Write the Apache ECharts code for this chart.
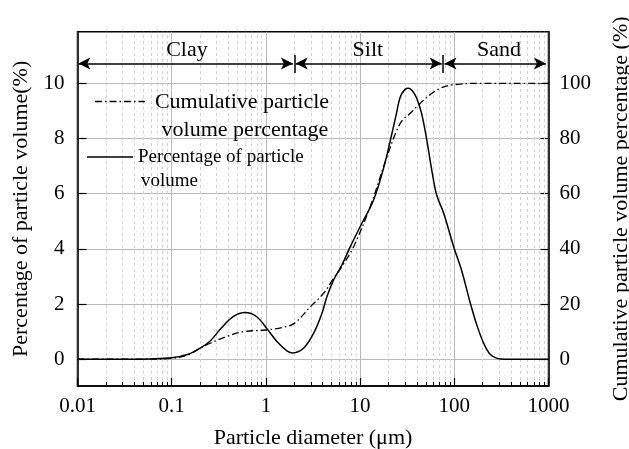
<!DOCTYPE html>
<html><head><meta charset="utf-8">
<script src="https://cdn.jsdelivr.net/npm/echarts@6/dist/echarts.min.js"></script>
<style>html,body{margin:0;padding:0;background:#fff}#c{width:629px;height:449px}</style>
</head><body><div id="c"></div>
<script>
// ---- data ----
const diameterPct = [0.01, 0.03, 0.06, 0.1, 0.15, 0.2, 0.256, 0.34, 0.453, 0.6, 0.8, 1.03, 1.31, 1.67, 1.9, 2.51, 3.21, 3.94, 4.45, 5.23, 6.42, 7.87, 10, 13.9, 18, 21, 24, 26.7, 30, 32.7, 36, 40, 45, 51, 58, 65, 77, 99, 120, 148, 175, 205, 240, 285, 350, 1000];
const percentVolume = [0, 0, 0.01, 0.05, 0.18, 0.4, 0.66, 1.15, 1.55, 1.69, 1.54, 1.1, 0.64, 0.3, 0.23, 0.4, 0.94, 1.67, 2.27, 2.87, 3.42, 4.08, 4.8, 5.77, 7.0, 7.95, 8.82, 9.5, 9.78, 9.82, 9.72, 9.45, 8.9, 7.95, 6.8, 5.95, 5.3, 4.05, 3.2, 2.03, 1.2, 0.58, 0.18, 0.03, 0, 0];
const diameterCum = [0.01, 0.05, 0.1, 0.15, 0.2, 0.256, 0.4, 0.578, 1.0, 1.5, 2.0, 2.96, 4.1, 5.23, 6.42, 8.53, 12.8, 19.3, 26.7, 35, 43.6, 55, 71, 90, 116, 160, 1000];
const cumulativeVolume = [0, 0, 0.3, 1.6, 4, 5.8, 8.5, 10, 10.6, 11.5, 13, 19, 23.9, 29.3, 33.6, 40.8, 55.3, 73.4, 85.5, 89.5, 92.8, 95.8, 98.2, 99.3, 99.7, 100, 100];
const leftTicks = [0, 2, 4, 6, 8, 10];
const rightTicks = [0, 20, 40, 60, 80, 100];
const zoneNames = ['Clay', 'Silt', 'Sand'];
const zoneBounds = [0.01, 2, 76, 1000];
const zoneLabelX = [0.145, 12.1, 299];
const zoneLabelY = 11.2;
const arrowY = 10.72;

const FONT = '"Liberation Serif", "Times New Roman", serif';
const X_MIN = 0.01, X_MAX = 1000, Y_MIN = -0.97, Y_MAX = 11.87;

// minor decade values for light dashed grid and small ticks
const minorVals = [];
for (let d = X_MIN; d < X_MAX; d *= 10) for (let k = 2; k <= 9; k++) minorVals.push(+(d * k).toPrecision(6));

const pctData = diameterPct.map((d, i) => [d, percentVolume[i]]);
const cumData = diameterCum.map((d, i) => [d, cumulativeVolume[i]]);

// arrows between zone boundaries (small gap before the boundary bars)
const arrowData = [];
for (let i = 0; i < zoneNames.length; i++) {
  const a = zoneBounds[i] * (i === 0 ? 1.02 : 1.035);
  const b = zoneBounds[i + 1] / (i === zoneNames.length - 1 ? 1.065 : 1.035);
  arrowData.push([{ coord: [a, arrowY] }, { coord: [b, arrowY] }]);
}
const barData = [zoneBounds[1], zoneBounds[2]].map(v => [{ coord: [v, 10.37] }, { coord: [v, 11.03] }]);

const chart = echarts.init(document.getElementById('c'), null, { renderer: 'canvas' });
const fmt = v => String(parseFloat((+v).toPrecision(6)));
const legendGraphics = [
  { type: 'line', z: 10, shape: { x1: 95, y1: 101.5, x2: 145, y2: 101.5 }, style: { stroke: '#000', lineWidth: 1.3, lineDash: [7, 3, 1.5, 3] } },
  { type: 'text', z: 10, x: 242, y: 102, style: { text: 'Cumulative particle', font: '22px ' + FONT, fill: '#000', textAlign: 'center', textVerticalAlign: 'middle' } },
  { type: 'text', z: 10, x: 245, y: 130, style: { text: 'volume percentage', font: '22px ' + FONT, fill: '#000', textAlign: 'center', textVerticalAlign: 'middle' } },
  { type: 'line', z: 10, shape: { x1: 87, y1: 157, x2: 133, y2: 157 }, style: { stroke: '#000', lineWidth: 1.5 } },
  { type: 'text', z: 10, x: 138, y: 157, style: { text: 'Percentage of particle', font: '19px ' + FONT, fill: '#000', textAlign: 'left', textVerticalAlign: 'middle' } },
  { type: 'text', z: 10, x: 141, y: 181, style: { text: 'volume', font: '19px ' + FONT, fill: '#000', textAlign: 'left', textVerticalAlign: 'middle' } }
];
chart.setOption({
  animation: false,
  backgroundColor: '#fff',
  textStyle: { fontFamily: FONT, color: '#000' },
  grid: { left: 77.5, right: 80.5, top: 31.7, bottom: 63, containLabel: false, outerBoundsMode: 'none',
    show: true, borderColor: '#000', borderWidth: 1.5, backgroundColor: 'transparent' },
  xAxis: {
    type: 'log', logBase: 10, min: X_MIN, max: X_MAX, splitNumber: 5,
    name: 'Particle diameter (μm)', nameLocation: 'middle', nameGap: 41,
    nameTextStyle: { fontFamily: FONT, fontSize: 22, color: '#000' },
    axisLine: { show: true, onZero: false, lineStyle: { color: '#000', width: 1.5 } },
    axisTick: { show: true, inside: true, length: 8, lineStyle: { color: '#000', width: 1.2 } },
    axisLabel: { fontFamily: FONT, fontSize: 21, color: '#000', margin: 10, formatter: fmt },
    splitLine: { show: true, lineStyle: { color: '#b8b8b8', width: 1 } }
  },
  yAxis: [{
    type: 'value', min: Y_MIN, max: Y_MAX, position: 'left',
    name: 'Percentage of particle volume(%)', nameLocation: 'middle', nameGap: 45, nameRotate: 90,
    nameTextStyle: { fontFamily: FONT, fontSize: 22, color: '#000' },
    axisLine: { show: true, onZero: false, lineStyle: { color: '#000', width: 1.5 } },
    axisTick: { show: true, inside: true, length: 9, customValues: leftTicks, lineStyle: { color: '#000', width: 1.2 } },
    axisLabel: { fontFamily: FONT, fontSize: 21, color: '#000', margin: 13, customValues: leftTicks },
    splitLine: { show: true, lineStyle: { color: '#b8b8b8', width: 1 } }
  }, {
    type: 'value', min: Y_MIN * 10, max: Y_MAX * 10, position: 'right',
    name: 'Cumulative particle volume percentage (%)', nameLocation: 'middle', nameGap: 62, nameRotate: 90,
    nameTextStyle: { fontFamily: FONT, fontSize: 22, color: '#000' },
    axisLine: { show: true, onZero: false, lineStyle: { color: '#000', width: 1.5 } },
    axisTick: { show: true, inside: true, length: 8, customValues: rightTicks, lineStyle: { color: '#000', width: 1.2 } },
    axisLabel: { fontFamily: FONT, fontSize: 21, color: '#000', margin: 11, customValues: rightTicks },
    splitLine: { show: false }
  }],
  series: [
    { // minor dashed grid
      type: 'line', data: [], silent: true, z: 1,
      markLine: { silent: true, z: 1, symbol: 'none', animation: false, label: { show: false },
        lineStyle: { color: '#d2d2d2', type: [3, 3], width: 1 },
        data: minorVals.map(v => ({ xAxis: v })) }
    },
    { // minor ticks along bottom
      type: 'line', data: [], silent: true, z: 4,
      markLine: { silent: true, z: 6, symbol: 'none', animation: false, label: { show: false },
        lineStyle: { color: '#000', type: 'solid', width: 1 },
        data: minorVals.map(v => [{ coord: [v, Y_MIN] }, { coord: [v, Y_MIN + 0.15] }]) }
    },
    {
      name: 'Percentage of particle volume', type: 'line', data: pctData, smooth: 0.35,
      symbol: 'none', z: 3, lineStyle: { color: '#000', width: 1.5 }
    },
    {
      name: 'Cumulative particle volume percentage', type: 'line', yAxisIndex: 1, data: cumData, smooth: 0.35,
      symbol: 'none', z: 3, lineStyle: { color: '#000', width: 1.3, type: [7, 3, 1.5, 3] }
    },
    { // zone arrows
      type: 'line', data: [], silent: true, z: 5,
      markLine: { silent: true, z: 6, animation: false, symbol: ['arrow', 'arrow'], symbolSize: [9, 12], label: { show: false },
        lineStyle: { color: '#000', type: 'solid', width: 1.5 }, itemStyle: { color: '#000' },
        data: arrowData }
    },
    { // zone boundary bars
      type: 'line', data: [], silent: true, z: 5,
      markLine: { silent: true, z: 6, animation: false, symbol: 'none', label: { show: false },
        lineStyle: { color: '#000', type: 'solid', width: 1.5 },
        data: barData }
    }
  ],
  graphic: legendGraphics
});
// zone labels placed through the chart's own coordinate conversion
const zoneGraphics = zoneNames.map((n, i) => {
  const p = chart.convertToPixel({ gridIndex: 0 }, [zoneLabelX[i], zoneLabelY]);
  return { type: 'text', z: 10, x: p[0], y: p[1], style: { text: n, font: '22px ' + FONT, fill: '#000', textAlign: 'center', textVerticalAlign: 'middle' } };
});
chart.setOption({ graphic: legendGraphics.concat(zoneGraphics) });
</script></body></html>
